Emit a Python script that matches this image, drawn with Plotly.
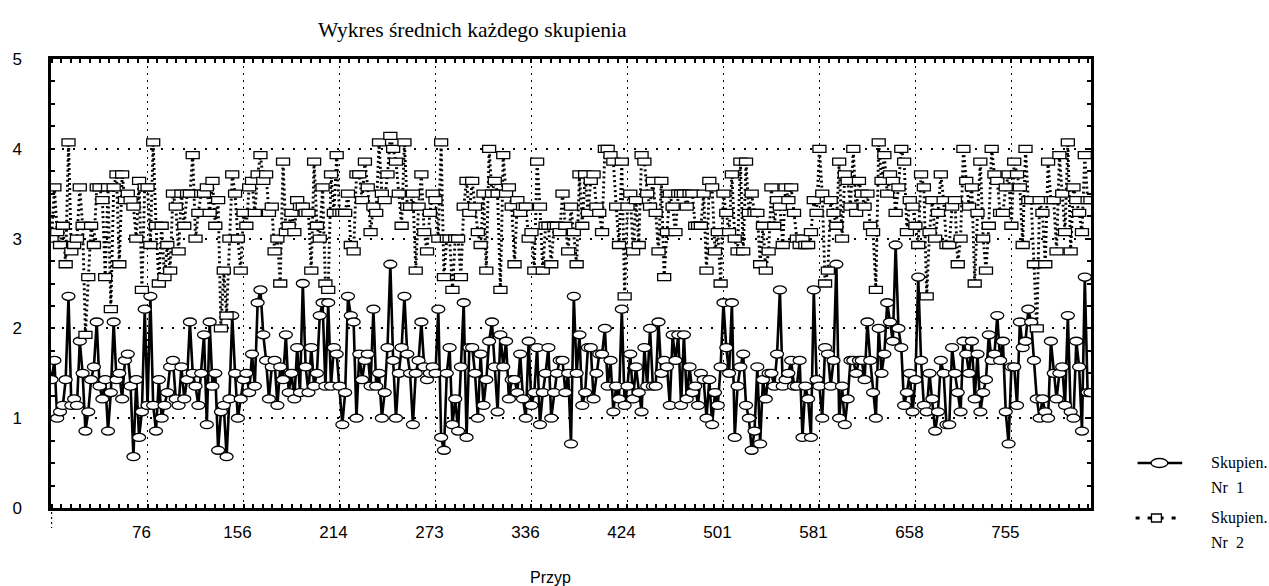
import plotly.graph_objects as go

# ---- data (cluster means, stored as multiples of 1/14) ----
skupienie1_a = [20,23,14,15,16,20,33,16,17,16,26,21,12,15,20,22,29,19,17,20,12,18,29,20,21,17,23,24,19,8,20,11,15,31,16,
                33,16,12,20,14,16,18,22,23,17,16,22,17,20,29,21,19,16,21,27,13,29,19,21,9,15,16,8,17,30,21,14,17,20,21,18,24,19,32,34]
skupienie1_b = [27,23,17,22,23,16,22,20,27,18,21,17,25,18,35,22,18,25,19,21,30,32,19,32,19,25,24,19,13,18,33,30,29,14,24,20,23,24,19,31,
                19,21,14,18,25,38,23,14,21,25,33,24,21,13,21,23,29,22,20,21,22,21,31,11,9,21,25,13,17,12,22,32,11,25]
skupienie1_c = [25,21,14,24,16,20,26,29,22,15,27,22,26,17,20,20,18,24,17,14,26,16,18,25,13,18,21,25,14,18,21,23,23,18,21,10,33,21,27,16,
                18,25,25,17,21,24,24,28,19,23,15,19,17,31,16,19,24,17,22,18,15,25,19,28,19,19,29,21,23,22,16,27]
skupienie1_d = [23,27,16,27,17,22,18,19,16,21,20,14,20,13,18,16,22,32,25,21,32,11,19,22,24,16,14,9,12,22,10,20,17,21,21,19,24,34,19,20,
                21,23,19,19,23,11,19,17,11,34,20,19,14,25,24,19,23,38,14,19,13,17,23,23,21,23,23,20,29,23,18,14,28,21,24,32]
skupienie1_e = [29,26,41,28,25,16,18,21,15,20,36,23,16,15,21,17,12,15,23,21,13,13,25,21,18,15,26,24,21,26,17,24,15,18,20,27,23,24,30,23,
                26,15,10,22,22,16,29,25,26,31,29,23,17,14,17,15,14,26,21,17,21,22,16,30,15,14,26,22,12,36,18,18]

skupienie2_a = [42,50,43,41,44,38,57,40,41,42,50,44,27,36,44,41,50,50,48,36,50,31,50,52,38,52,48,49,48,47,42,51,34,50,50,41,57,44,35,44,
                36,41,37,49,47,40,49,44,49,49,55,42,46,49,49,50,46,51,44,48,28,37,30,42,52,49,42,37,46,44,50,51,46,52,55]
skupienie2_b = [51,52,46,47,40,42,35,54,43,44,46,43,48,47,47,46,46,37,54,44,42,50,35,34,52,46,55,46,46,46,49,41,40,52,52,48,54,50,43,47,
                46,57,49,48,52,58,56,54,49,44,57,47,47,49,37,47,52,43,40,46,49,48,42,57,36,42,42,34,42,42,36,47,51,46]
skupienie2_c = [51,47,43,41,49,37,56,49,51,49,34,55,49,50,47,38,48,46,47,47,42,43,37,54,47,37,44,44,38,44,44,43,49,44,40,47,43,38,52,44,
                52,46,51,52,47,46,43,56,56,55,54,47,41,54,33,47,49,40,48,41,55,54,49,47,51,46,40,51,36,43,49,47]
skupienie2_d = [43,49,49,49,47,49,49,44,44,44,49,37,51,50,40,43,35,49,46,43,52,42,40,54,40,54,46,49,46,46,38,44,37,40,50,44,48,47,41,50,
                48,50,46,42,41,42,41,41,43,48,46,56,49,35,37,48,46,44,54,42,52,51,47,56,46,51,49,47,49,44,43,34,57,51,55,49]
skupienie2_e = [52,51,46,50,56,54,43,48,47,44,41,52,50,33,43,48,42,46,52,48,41,41,47,48,38,42,56,51,47,50,35,46,54,42,37,44,56,52,51,46,
                46,50,52,44,54,52,50,41,56,48,48,38,28,48,46,38,54,48,48,40,55,49,43,57,40,50,48,46,43,55,48,48]

tick_labels = ["", "76", "156", "214", "273", "336", "424", "501", "581", "658", "755"]
TICK_STEP = 34          # one labelled case every 34 points
series_names = ["Skupien.", "Skupien."]
series_numbers = ["Nr\u00a0\u00a01", "Nr\u00a0\u00a02"]

y1 = [k / 14 for k in skupienie1_a + skupienie1_b + skupienie1_c + skupienie1_d + skupienie1_e]
y2 = [k / 14 for k in skupienie2_a + skupienie2_b + skupienie2_c + skupienie2_d + skupienie2_e]
x1 = list(range(len(y1)))
x2 = list(range(len(y2)))
n = max(len(y1), len(y2))

# ---- geometry of the page (pixels) ----
W, H = 1269, 586
L, R, T, B = 42, 1091, 59, 508


def px(p):
    return (p - L) / (R - L)


def py(p):
    return (B - p) / (B - T)


SANS = "Liberation Sans, Arial, sans-serif"
SERIF = "Liberation Serif, Times New Roman, serif"

fig = go.Figure()
fig.add_trace(go.Scatter(x=x1, y=y1, mode="lines", line=dict(color="black", width=2.6),
                         showlegend=False, hoverinfo="skip"))
fig.add_trace(go.Scatter(x=x2, y=y2, mode="lines", line=dict(color="black", width=2.9, dash="2px,3px"),
                         showlegend=False, hoverinfo="skip"))

shapes = []
# ellipse markers of series 1, anchored on the data through the axes
for xi, yi in zip(x1, y1):
    shapes.append(dict(type="circle", xref="x", yref="y", xsizemode="pixel", ysizemode="pixel",
                       xanchor=xi, yanchor=yi, x0=-6.5, x1=6.5, y0=-4, y1=4,
                       line=dict(color="black", width=1.3), fillcolor="white", layer="above"))
# rectangle markers of series 2
for xi, yi in zip(x2, y2):
    shapes.append(dict(type="rect", xref="x", yref="y", xsizemode="pixel", ysizemode="pixel",
                       xanchor=xi, yanchor=yi, x0=-6.5, x1=6.5, y0=-3.5, y1=3.5,
                       line=dict(color="black", width=1.3), fillcolor="white", layer="above"))

# small dotted mark under the first (unlabelled) category
shapes.append(dict(type="line", xref="x", yref="paper", x0=0, x1=0, y0=py(512), y1=py(528),
                   line=dict(color="black", width=1.2, dash="2px,3px")))

# ---- legend (drawn by hand, right of the plot) ----
shapes.append(dict(type="line", xref="paper", yref="paper", x0=px(1138), x1=px(1183), y0=py(463), y1=py(463),
                   line=dict(color="black", width=2.5)))
shapes.append(dict(type="circle", xref="paper", yref="paper", x0=px(1151.5), x1=px(1168.5), y0=py(467.5), y1=py(458.5),
                   line=dict(color="black", width=1.3), fillcolor="white"))
shapes.append(dict(type="line", xref="paper", yref="paper", x0=px(1136), x1=px(1180), y0=py(518), y1=py(518),
                   line=dict(color="black", width=2.8, dash="4px,8px")))
shapes.append(dict(type="rect", xref="paper", yref="paper", x0=px(1152), x1=px(1162), y0=py(522), y1=py(514),
                   line=dict(color="black", width=1.3), fillcolor="white"))

annotations = [
    dict(text="Wykres średnich każdego skupienia", x=px(467), y=py(30), xref="paper", yref="paper",
         showarrow=False, xanchor="center", yanchor="middle", font=dict(family=SERIF, size=21.5, color="black")),
    dict(text="Przyp", x=px(546), y=py(577), xref="paper", yref="paper",
         showarrow=False, xanchor="center", yanchor="middle", font=dict(family=SANS, size=16, color="black")),
]
for i, (nm, nr) in enumerate(zip(series_names, series_numbers)):
    y_top = [463, 518][i]
    annotations.append(dict(text=nm, x=px(1210), y=py(y_top), xref="paper", yref="paper", showarrow=False,
                            xanchor="left", yanchor="middle", font=dict(family=SERIF, size=16, color="black")))
    annotations.append(dict(text=nr, x=px(1210), y=py(y_top + 24), xref="paper", yref="paper", showarrow=False,
                            xanchor="left", yanchor="middle", font=dict(family=SERIF, size=16, color="black")))

fig.update_layout(
    width=W, height=H,
    margin=dict(l=L, r=W - R, t=T, b=H - B, pad=0),
    paper_bgcolor="white", plot_bgcolor="white",
    shapes=shapes, annotations=annotations,
    showlegend=False,
)

fig.update_xaxes(
    range=[-0.2, n - 1 + 0.2],
    tickmode="array",
    tickvals=[TICK_STEP * j for j in range(len(tick_labels))],
    ticktext=tick_labels,
    showgrid=True, gridcolor="black", griddash="2px,5px", gridwidth=1,
    showline=True, linecolor="black", linewidth=2.5, mirror="allticks",
    ticks="", zeroline=False,
    tickfont=dict(family=SANS, size=17, color="black"),
    ticklabelstandoff=7, ticklabelshift=-6,
    minor=dict(dtick=TICK_STEP / 10, tick0=0, ticks="inside", ticklen=4, tickcolor="black",
               tickwidth=1.5, showgrid=False),
)
fig.update_yaxes(
    range=[0, 5],
    tickmode="array", tickvals=[0, 1, 2, 3, 4, 5], ticktext=["0", "1", "2", "3", "4", "5"],
    showgrid=True, gridcolor="black", griddash="2px,9px", gridwidth=1.5,
    showline=True, linecolor="black", linewidth=2.5, mirror="allticks",
    ticks="inside", ticklen=4, tickcolor="black", tickwidth=1.5, zeroline=False,
    tickfont=dict(family=SANS, size=17, color="black"),
    ticklabelstandoff=23,
    minor=dict(dtick=0.25, tick0=0, ticks="inside", ticklen=4, tickcolor="black", tickwidth=1.5, showgrid=False),
)

fig.write_html("out.html", config={"displayModeBar": False},
               post_script="document.body.style.margin='0';document.body.style.overflow='hidden';")
